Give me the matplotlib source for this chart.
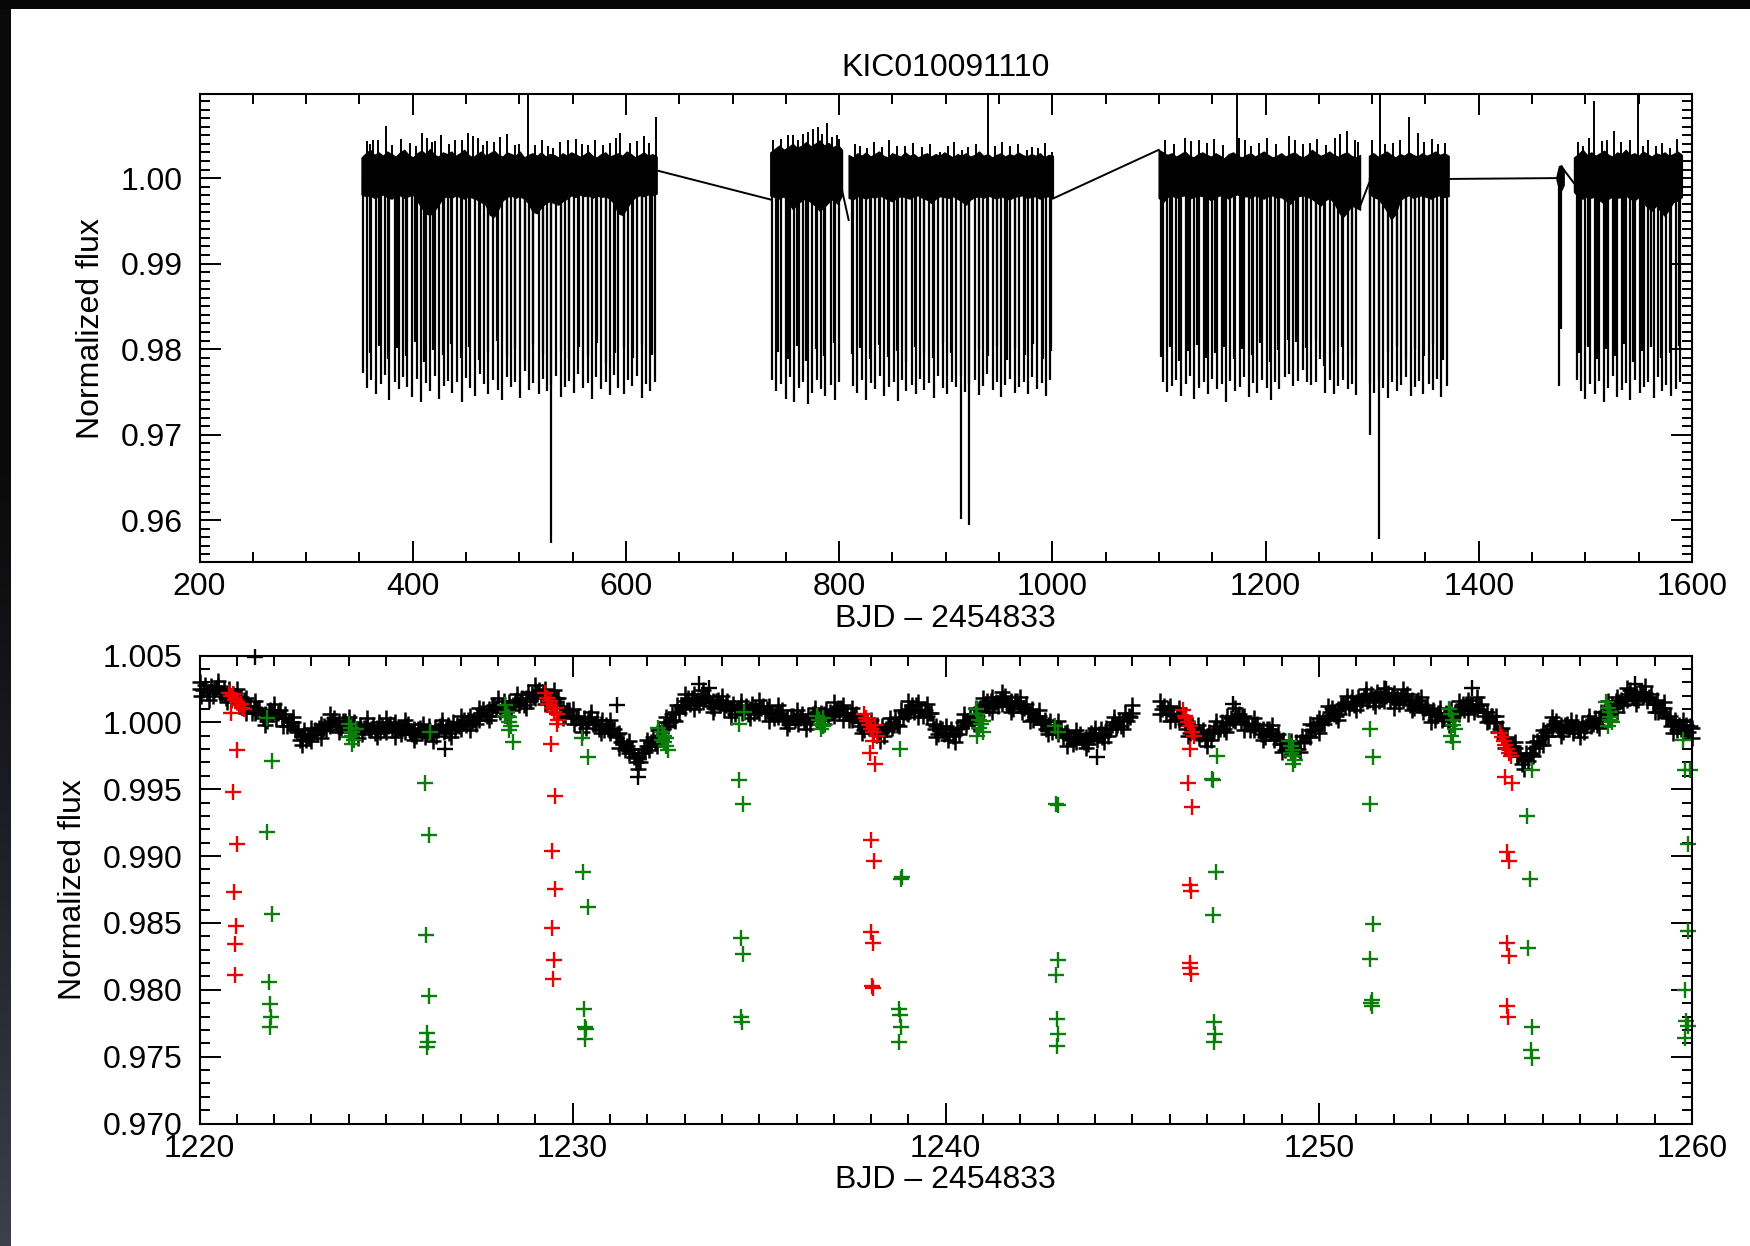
import numpy as np
import matplotlib
matplotlib.use("Agg")
import matplotlib.pyplot as plt
from matplotlib.ticker import FixedLocator, MultipleLocator, FormatStrFormatter

plt.rcParams['font.family'] = ['Liberation Sans', 'DejaVu Sans']

# ---------------- text ----------------
title = "KIC010091110"
xlabel = "BJD \u2013 2454833"
ylabel = "Normalized flux"

# ---------------- top panel: full light curve ----------------
# flux values below are offsets in units of 1e-4 relative to 1.0
seg_start = [352.0, 735.4, 808.9, 1099.7, 1297.0, 1473.0, 1489.3]
seg_end = [628.8, 802.7, 1000.5, 1288.6, 1371.7, 1479.6, 1590.5]
seg_start_flux = [1.0000, 0.9975, 0.9951, 1.0033, 0.9994, 1.0000, 0.9994]
seg_end_flux = [1.0009, 0.9986, 0.9976, 0.9967, 0.9999, 1.0010, 0.9990]

band_hi_1 = [24, 29, 33, 27, 30, 26, 31, 28, 25, 30, 33, 27, 24, 29, 32, 28, 34, 27, 25, 30,
             28, 31, 26, 29, 33, 27, 24, 28, 31, 26, 29, 32, 27, 25, 30, 28, 26, 31, 24, 27,
             29, 26, 30, 25, 28, 27, 24, 29, 26, 30, 28, 25, 27, 31, 26, 24, 28, 30, 25, 27,
             29, 26, 31, 28, 24, 27, 30, 26, 28, 25]
band_lo_1 = [-19, -21, -20, -23, -21, -19, -22, -24, -21, -20, -23, -21, -19,
             -26, -34, -41, -43, -38, -31, -23,
             -21, -23, -20, -22, -24, -21, -23, -25, -28, -31,
             -43, -45, -36, -26,
             -22, -20, -23, -21, -24, -29,
             -39, -41, -34, -29,
             -27, -29, -31, -27, -24,
             -20, -22, -19, -21, -20, -23, -20, -22, -21, -24, -29,
             -41, -43, -35, -27,
             -22, -20, -21, -19, -20, -18]
band_hi_2 = [30, 34, 38, 33, 36, 40, 35, 38, 42, 37, 40, 44, 38, 41, 36, 39, 33]
band_lo_2 = [-20, -22, -24, -21, -28, -36, -30, -26, -23, -28, -32, -38, -34, -28, -24, -30, -20]
band_hi_3 = [27, 24, 29, 26, 30, 25, 28, 31, 26, 24, 29, 27, 25, 30, 26, 28, 24, 27, 29, 25,
             28, 26, 30, 27, 24, 28, 26, 29, 25, 27, 31, 26, 28, 24, 27, 29, 25, 28, 26, 30,
             27, 25, 28, 26, 29, 24, 27, 26]
band_lo_3 = [-23, -25, -21, -22, -24, -21, -23, -20, -22, -25, -27, -23, -21, -22, -24, -21,
             -20, -23, -25, -29, -24, -21, -22, -23, -21, -24, -27, -31, -25, -22, -21, -23,
             -20, -22, -24, -21, -23, -25, -22, -21, -20, -23, -22, -21, -24, -22, -21, -23]
band_hi_4 = [33, 30, 27, 29, 25, 28, 31, 26, 24, 28, 30, 27, 25, 29, 26, 23, 28, 30, 26, 24,
             27, 29, 25, 28, 31, 27, 24, 26, 29, 25, 28, 30, 26, 24, 27, 33, 29, 26, 28, 31,
             27, 25, 28, 30, 26, 24, 27]
band_lo_4 = [-23, -28, -22, -20, -23, -21, -20, -24, -22, -20, -21, -23, -26, -22, -20, -21,
             -24, -20, -19, -22, -21, -23, -20, -22, -24, -21, -20, -23, -22, -26, -30, -24,
             -21, -20, -22, -24, -28, -32, -26, -23, -28, -38, -46, -40, -32, -34, -37]
band_hi_5 = [26, 29, 25, 28, 31, 27, 24, 28, 26, 30, 27, 25, 29, 26, 28, 31, 27, 29, 26]
band_lo_5 = [-18, -22, -24, -30, -38, -48, -42, -26, -22, -20, -23, -21, -20, -22, -24, -21,
             -20, -22, -21]
band_hi_6 = [2, 14, 15, 10]
band_lo_6 = [-2, -12, -14, -8]
band_hi_7 = [24, 28, 33, 27, 30, 26, 29, 32, 27, 25, 30, 28, 33, 27, 29, 26, 31, 28, 25, 29,
             27, 30, 26, 28, 31, 27]
band_lo_7 = [-16, -22, -24, -21, -23, -20, -26, -30, -24, -21, -23, -22, -20, -24, -26, -22,
             -28, -34, -38, -32, -38, -44, -36, -28, -26, -22]

# eclipses of the short-period pair (green in the lower panel)
dip_t_green = [353, 357, 361, 366, 370, 374, 378, 383, 387, 391, 395, 399, 404, 408, 412, 416,
               421, 425, 429, 433, 437, 442, 446, 450, 454, 458, 463, 467, 471, 475, 480, 484,
               488, 492, 496, 501, 505, 509, 513, 518, 522, 526, 530, 534, 539, 543, 547, 551,
               555, 560, 564, 568, 572, 577, 581, 585, 589, 593, 598, 602, 606, 610, 615, 619,
               623, 627,
               737, 741, 745, 750, 754, 758, 762, 766, 771, 775, 779, 783, 787, 792, 796, 800,
               813, 817, 821, 825, 830, 834, 838, 842, 847, 851, 855, 859, 863, 868, 872, 876,
               880, 884, 889, 893, 897, 901, 906, 910, 914, 918, 922, 927, 931, 935, 939, 944,
               948, 952, 956, 960, 965, 969, 973, 977, 981, 986, 990, 994, 998,
               1104, 1108, 1112, 1116, 1121, 1125, 1129, 1133, 1138, 1142, 1146, 1150, 1154,
               1159, 1163, 1167, 1171, 1176, 1180, 1184, 1188, 1192, 1197, 1201, 1205, 1209,
               1213, 1218, 1222, 1226, 1230, 1235, 1239, 1243, 1247, 1251, 1256, 1260, 1264,
               1268, 1273, 1277, 1281, 1285,
               1298, 1302, 1306, 1310, 1315, 1319, 1323, 1327, 1332, 1336, 1340, 1344, 1348,
               1353, 1357, 1361, 1365, 1370,
               1475,
               1492, 1496, 1500, 1504, 1509, 1513, 1517, 1521, 1526, 1530, 1534, 1538, 1542,
               1547, 1551, 1555, 1559, 1564, 1568, 1572, 1576, 1580, 1585, 1589]
dip_d_green = [-228, -245, -236, -252, -241, -230, -259, -238, -247, -233,
               -244, -256, -235, -262, -240, -249, -231, -258, -243, -237,
               -251, -239, -262, -234, -246, -255, -229, -241, -253, -236,
               -248, -260, -233, -244, -238, -257, -226, -248, -240, -252,
               -235, -249, -242, -231, -256, -244, -237, -251, -229, -246,
               -240, -258, -233, -247, -239, -254, -230, -245, -252, -236,
               -243, -232, -257, -241, -249, -238,
               -236, -249, -241, -258, -233, -262, -245, -239, -264, -251, -236, -247, -255,
               -242, -259, -238,
               -243, -251, -236, -259, -240, -247, -232, -255, -244, -238,
               -261, -236, -249, -242, -253, -235, -248, -240, -257, -231,
               -246, -252, -238, -244, -232, -250, -241, -236, -254, -243,
               -229, -248, -239, -256, -242, -235, -251, -244, -238, -253,
               -233, -247, -240, -255, -236,
               -238, -250, -243, -236, -255, -241, -232, -258, -246, -239,
               -253, -235, -247, -241, -262, -237, -249, -244, -233, -256,
               -240, -251, -236, -245, -259, -238, -247, -233, -229, -243,
               -237, -224, -239, -242, -239, -212, -251, -236, -252, -243,
               -236, -247, -241, -254,
               -240, -251, -235, -246, -257, -238, -249, -242, -233, -255, -244, -237, -252,
               -241, -248, -235, -256, -243,
               -243,
               -236, -249, -258, -241, -253, -237, -262, -245, -231, -256, -248, -240, -259,
               -236, -251, -244, -238, -257, -233, -249, -242, -255, -247, -238]

# eclipses of the longer-period pair (red in the lower panel)
dip_t_red = [360, 368, 377, 385, 394, 402, 411, 419, 428, 436, 445, 453, 462, 471, 479, 488,
             496, 505, 513, 522, 530, 539, 547, 556, 564, 573, 581, 590, 598, 607, 615, 624,
             743, 752, 760, 769, 778, 786, 795,
             812, 820, 829, 837, 846, 854, 863, 871, 880, 888, 897, 905, 914, 922, 931, 940,
             948, 957, 965, 974, 982, 991, 999,
             1102, 1110, 1119, 1127, 1136, 1144, 1153, 1161, 1170, 1178, 1187, 1195, 1204,
             1212, 1221, 1229, 1238, 1247, 1255, 1264, 1272, 1281,
             1298, 1306, 1315, 1323, 1332, 1340, 1349, 1357, 1366,
             1477,
             1494, 1502, 1511, 1519, 1528, 1536, 1545, 1553, 1562, 1571, 1579, 1588]
dip_d_red = [-205, -196, -212, -199, -208, -192, -215, -201, -207, -194, -210, -198, -213,
             -203, -191, -209, -200, -214, -195, -206, -427, -202, -211, -197, -208, -193,
             -216, -204, -199, -210, -195, -207,
             -203, -211, -196, -214, -200, -208, -193,
             -206, -199, -212, -195, -209, -202, -215, -197, -205, -210, -193, -204, -399,
             -406, -201, -208, -196, -213, -199, -207, -194, -211, -202,
             -209, -198, -214, -202, -195, -210, -204, -197, -212, -200, -207, -193, -215,
             -201, -189, -192, -199, -188, -220, -205, -198, -210,
             -301, -422, -203, -196, -211, -200, -208, -194, -213,
             -176,
             -205, -197, -212, -200, -208, -194, -215, -202, -198, -210, -204, -196]

# upward excursions above the noise band (200 = runs off the top of the frame)
spike_t = [356.8, 363.0, 374.9, 408.4, 413.1, 420.9, 439.7, 452.1, 456.8, 469.4, 481.9, 495.9,
           508.4, 514.7, 531.9, 545.9, 564.7, 578.8, 594.4, 603.8, 628.6,
           738.2, 757.0, 766.4, 775.8, 783.6, 788.3, 797.7, 825.8, 853.9, 894.6, 914.9, 939.5,
           975.9, 986.8, 999.4,
           1124.2, 1137.2, 1173.1, 1174.7, 1186.1, 1222.0, 1235.1, 1276.7, 1283.8, 1307.7,
           1319.8, 1334.4, 1342.6, 1368.1,
           1497.4, 1508.2, 1515.5, 1526.8, 1541.5, 1549.7, 1553.9, 1565.9, 1579.0]
spike_h = [43, 45, 61, 53, 47, 43, 45, 53, 49, 43, 48, 39,
           200, 39, 35, 45, 39, 39, 53, 41, 71,
           45, 50, 52, 58, 52, 65, 50, 35, 37, 31, 33, 200,
           33, 35, 31,
           47, 45, 200, 47, 38, 49, 40, 55, 45, 200,
           41, 71, 53, 41,
           37, 90, 43, 55, 45, 200, 37, 37, 35]
# smaller noise peaks along the top of the band
peak_t = [360, 367, 381, 389, 397, 403, 418, 427, 434, 446, 461, 466, 476, 488, 500, 521,
          527, 538, 553, 559, 571, 585, 591, 610, 617, 622,
          745, 752, 761, 771, 780, 793, 800,
          815, 820, 833, 840, 847, 862, 869, 878, 885, 902, 908, 921, 928, 946, 953, 960,
          968, 981, 993,
          1106, 1114, 1130, 1145, 1152, 1160, 1181, 1194, 1201, 1210, 1228, 1242, 1248,
          1257, 1265, 1270, 1287,
          1300, 1312, 1326, 1349, 1356, 1362,
          1493, 1503, 1520, 1533, 1559, 1572, 1586]
peak_h = [40, 44, 39, 46, 41, 38, 42, 50, 40, 44, 47, 39, 42, 51, 40, 44,
          38, 42, 46, 40, 44, 41, 47, 43, 49, 41,
          46, 50, 44, 54, 60, 48, 46,
          40, 38, 42, 36, 44, 38, 41, 36, 40, 37, 42, 36, 40, 38, 42, 37,
          40, 36, 41,
          45, 40, 43, 41, 46, 39, 44, 41, 47, 40, 44, 41, 46,
          39, 47, 52, 42,
          44, 40, 45, 42, 46, 40,
          42, 47, 44, 42, 44, 41, 46]

top_xticks = [200, 400, 600, 800, 1000, 1200, 1400, 1600]
top_yticks = [0.96, 0.97, 0.98, 0.99, 1.00]

# ---------------- bottom panel: zoom 1220-1260 ----------------
# out-of-eclipse points, cadence 0.05 d, offsets in 1e-4
black_a_span = (1220.0, 1245.0)
black_a = [25, 20, 24, 28, 22, 23, 27, 20, 24, 26, 27, 22, 22, 25, 18, 22, 25, 17, 21, 18,
           15, 18, 19, 14, 17, 18, 12, 12, 7, 11, 7, 10, 11, 6, 3, 6, 1, 8, 9, 7,
           9, 3, 7, 9, 3, 3, 6, -3, 0, 0, 0, -6, -7, -5, -13, -10, -6, -13, -10, -12,
           -14, -9, -6, -9, -4, -1, -5, -3, -6, -1, -3, 1, 3, -1, -3, 1, -5, 1, 1, -2,
           -1, -6, -3, 0, -7, -6, -2, -9, -4, -2, -1, -6, -5, -2, -8, -4, 0, -7, -3, -5,
           -7, -3, -1, -6, -2, 0, -5, -4, -9, -4, -7, -3, -1, -7, -9, -5, -10, -5, -4, -8,
           -6, -11, -7, -3, -9, -8, -4, -10, -6, -3, -2, -7, -6, -2, -8, -4, 0, -6, -2, -3,
           -5, 0, 2, -2, 2, 5, 1, 2, -1, 4, 2, 7, 10, 6, 5, 10, 5, 12, 13, 11,
           13, 8, 12, 16, 10, 11, 15, 9, 13, 16, 17, 13, 15, 18, 13, 18, 23, 16, 21, 19,
           18, 22, 24, 19, 23, 25, 19, 19, 15, 19, 15, 18, 18, 12, 8, 11, 5, 9, 9, 4,
           5, -1, 3, 5, -1, -1, 3, -4, 1, 3, 4, -1, -1, 2, -5, -1, 2, -6, -2, -5,
           -8, -5, -5, -11, -9, -8, -15, -16, -21, -18, -23, -20, -20, -26, -30, -27, -30, -23, -20, -22,
           -18, -21, -15, -11, -15, -12, -6, -12, -6, -3, 0, -3, 0, 6, 2, 8, 13, 7, 13, 12,
           11, 16, 18, 14, 18, 21, 16, 17, 13, 18, 15, 19, 20, 15, 12, 16, 11, 16, 17, 13,
           15, 10, 13, 16, 9, 10, 14, 6, 10, 11, 12, 7, 8, 12, 6, 10, 14, 7, 11, 9,
           7, 11, 12, 7, 10, 12, 7, 7, 3, 7, 4, 7, 9, 3, 1, 4, -1, 5, 5, 2,
           4, -1, 3, 6, 0, 1, 5, -1, 3, 6, 7, 2, 4, 7, 2, 6, 10, 4, 8, 7,
           5, 9, 11, 7, 11, 13, 7, 7, 2, 6, 2, 5, 6, 0, -3, 0, -6, -1, 0, -4,
           -3, -8, -5, -2, -9, -8, -3, -10, -5, -3, -1, -4, -2, 3, -2, 4, 9, 3, 8, 7,
           6, 10, 13, 8, 13, 15, 9, 9, 5, 9, 5, 7, 7, -1, -5, -3, -9, -4, -5, -9,
           -8, -13, -8, -5, -10, -9, -4, -9, -4, 0, 2, -2, 1, 5, 1, 6, 11, 5, 10, 9,
           8, 13, 16, 11, 16, 19, 14, 15, 12, 17, 14, 18, 20, 14, 12, 16, 10, 16, 16, 13,
           14, 8, 11, 14, 7, 7, 10, 2, 4, 5, 5, -1, -1, 2, -5, -2, 1, -7, -3, -6,
           -9, -6, -5, -11, -8, -7, -12, -12, -16, -12, -15, -11, -9, -13, -15, -11, -16, -10, -8, -11,
           -9, -13, -9, -5, -11, -9, -4, -10, -5, -2, 0, -4, -2, 2, -3, 2, 7, 1, 5, 4,
           7]
black_b_span = (1245.75, 1260.0)
black_b = [6, 10, 12, 6, 10,
           12, 6, 6, 2, 6, 2, 5, 5, -1, -5, -2, -8, -3, -4, -8, -7, -12, -9, -6, -13,
           -12, -7, -13, -8, -5, -3, -7, -5, 0, -5, 0, 5, -1, 3, 2, 1, 4, 6, 0, 4,
           5, -1, -1, -6, -2, -6, -2, -1, -6, -9, -5, -11, -5, -5, -8, -7, -13, -10, -9, -16,
           -16, -13, -21, -19, -18, -18, -22, -20, -15, -20, -15, -10, -15, -10, -10, -11, -6, -2, -6, 0,
           3, -1, 1, -1, 5, 3, 8, 11, 6, 5, 10, 6, 13, 14, 12, 15, 11, 15, 19, 13,
           15, 19, 13, 17, 20, 21, 16, 17, 21, 15, 19, 23, 16, 20, 18, 16, 20, 22, 16, 20,
           22, 17, 18, 14, 19, 16, 20, 21, 16, 13, 17, 11, 16, 17, 13, 14, 8, 11, 13, 6,
           6, 9, 2, 5, 7, 7, 2, 3, 7, 1, 5, 10, 4, 8, 7, 6, 11, 14, 9, 14,
           17, 12, 13, 8, 13, 10, 13, 14, 8, 5, 8, 1, 5, 5, 0, 0, -7, -5, -4, -12,
           -13, -11, -20, -18, -18, -19, -25, -25, -24, -31, -28, -23, -29, -23, -24, -25, -19, -14, -17, -10,
           -6, -10, -7, -10, -3, -5, -1, 1, -4, -6, -2, -7, -2, -1, -5, -3, -8, -4, 0, -6,
           -5, -1, -7, -3, 0, 1, -3, -1, 3, -2, 3, 8, 2, 8, 7, 6, 11, 14, 11, 16,
           19, 15, 17, 13, 19, 17, 21, 24, 19, 18, 22, 17, 23, 23, 20, 22, 16, 19, 21, 14,
           14, 17, 8, 11, 11, 11, 4, 3, 5, -3, -1, 2, -6, -2, -5, -8, -4, -2, -7, -3,
           -4]
# points at the upper / lower edges of the scatter, cadence 0.25 d
edge_a_span = (1220.0, 1245.0)
edge_a = [30, 17, 31, 15, 25, 7, 16, -2, 14, -3, 4, -17, -4, -12, 6, -7,
          4, -12, 3, -11, 3, -11, 2, -13, -1, -14, 2, -11, 5, -6, 11, 2,
          18, 5, 21, 11, 28, 14, 24, 3, 10, -7, 8, -8, 2, -19, -14, -35,
          -13, -18, 4, 1, 21, 10, 24, 8, 20, 4, 16, 3, 17, 1, 13, -4,
          9, -5, 11, -1, 15, 2, 11, -8, 2, -14, 3, -3, 16, 4, 14, -11,
          -3, -15, 6, -1, 18, 8, 23, 8, 19, 1, 9, -9, 1, -18, -6, -19,
          -4, -15, 4, -5, 13]
edge_b_span = (1245.75, 1260.0)
edge_b = [16, 1, 11, -10, -2, -18, 1, -7, 11, -6, 3, -13, -2, -22, -14, -22, -1,
          -8, 12, 2, 20, 9, 25, 12, 26, 11, 25, 9, 19, 0, 11, -2, 16,
          6, 19, 0, 5, -19, -15, -35, -15, -17, 4, -10, 2, -11, 5, -4, 16,
          8, 26, 14, 27, 8, 15, -8, 2, -12]
outlier_t = [1221.50, 1226.57, 1231.19, 1231.75, 1233.39, 1233.65, 1244.05, 1247.70, 1251.80,
             1254.10, 1258.47]
outlier_f = [1.0049, 0.9980, 1.0013, 0.9959, 1.0029, 1.0026, 0.9974, 1.0014, 1.0025,
             1.0026, 1.0029]

red_t = [1220.80, 1220.85, 1220.90, 1220.95, 1221.00, 1221.05, 1221.10, 1221.15, 1221.20,
         1220.85, 1221.01, 1220.90, 1221.01, 1220.93, 1220.97, 1220.95, 1220.96,
         1229.26, 1229.30, 1229.35, 1229.40, 1229.45, 1229.50, 1229.55, 1229.58, 1229.60,
         1229.57, 1229.42, 1229.54, 1229.44, 1229.54, 1229.46, 1229.50, 1229.47,
         1237.80, 1237.85, 1237.90, 1237.95, 1238.00, 1238.05, 1238.10, 1238.15, 1238.05,
         1237.97, 1238.10, 1237.99, 1238.08, 1238.00, 1238.05, 1238.03, 1238.05,
         1246.35, 1246.40, 1246.45, 1246.50, 1246.55, 1246.60, 1246.65, 1246.55, 1246.50,
         1246.60, 1246.55, 1246.58, 1246.55, 1246.55, 1246.58,
         1254.85, 1254.90, 1254.95, 1255.00, 1255.05, 1255.10, 1255.15, 1254.99, 1255.17,
         1255.04, 1255.10, 1255.04, 1255.10, 1255.04, 1255.08]
red_f = [1.0022, 1.0020, 1.0021, 1.0017, 1.0015, 1.0013, 1.0014, 1.0011, 1.0010,
         1.0007, 0.9979, 0.9948, 0.9909, 0.9873, 0.9848, 0.9834, 0.9811,
         1.0022, 1.0018, 1.0014, 1.0016, 1.0011, 1.0008, 1.0011, 1.0006, 1.0002,
         0.9999, 0.9984, 0.9945, 0.9904, 0.9875, 0.9846, 0.9822, 0.9808,
         1.0006, 1.0003, 1.0001, 0.9998, 0.9995, 0.9993, 0.9998, 0.9990, 0.9986,
         0.9977, 0.9969, 0.9912, 0.9896, 0.9843, 0.9835, 0.9803, 0.9801,
         1.0009, 1.0005, 1.0003, 1.0000, 0.9997, 0.9993, 0.9990, 0.9980, 0.9955,
         0.9937, 0.9878, 0.9874, 0.9820, 0.9816, 0.9812,
         0.9992, 0.9989, 0.9986, 0.9983, 0.9980, 0.9977, 0.9975, 0.9959, 0.9955,
         0.9903, 0.9896, 0.9835, 0.9825, 0.9788, 0.9780]

green_t = [1221.80, 1221.94, 1221.82, 1221.94, 1221.87, 1221.89, 1221.91, 1221.90,
           1224.00, 1224.05, 1224.10, 1224.10, 1224.15, 1224.10, 1224.20, 1224.00,
           1226.18, 1226.04, 1226.16, 1226.06, 1226.14, 1226.11, 1226.12, 1226.10,
           1228.20, 1228.25, 1228.30, 1228.30, 1228.35, 1228.30, 1228.40, 1228.20,
           1230.24, 1230.41, 1230.27, 1230.40, 1230.30, 1230.33, 1230.35, 1230.32,
           1232.30, 1232.40, 1232.45, 1232.50, 1232.45, 1232.50, 1232.55, 1232.40,
           1234.58, 1234.47, 1234.47, 1234.57, 1234.50, 1234.57, 1234.52, 1234.55,
           1236.55, 1236.60, 1236.65, 1236.70, 1236.65, 1236.75, 1236.70,
           1238.77, 1238.80, 1238.82, 1238.75, 1238.78, 1238.80, 1238.76,
           1240.80, 1240.85, 1240.90, 1240.95, 1240.90, 1241.00, 1240.85, 1241.00,
           1242.93, 1243.00, 1242.96, 1243.00, 1243.00, 1242.95, 1242.98, 1243.00, 1242.97,
           1247.26, 1247.13, 1247.15, 1247.23, 1247.15, 1247.20, 1247.22, 1247.18,
           1249.20, 1249.25, 1249.30, 1249.30, 1249.35, 1249.30, 1249.25,
           1251.37, 1251.46, 1251.36, 1251.45, 1251.38, 1251.42, 1251.42, 1251.40,
           1253.50, 1253.55, 1253.60, 1253.60, 1253.65, 1253.55, 1253.60,
           1255.70, 1255.58, 1255.67, 1255.60, 1255.70, 1255.68, 1255.72,
           1257.70, 1257.75, 1257.80, 1257.80, 1257.85, 1257.75, 1257.80,
           1259.77, 1259.95, 1259.80, 1259.89, 1259.90, 1259.80, 1259.85, 1259.90, 1259.82]
green_f = [1.0003, 0.9971, 0.9918, 0.9857, 0.9806, 0.9789, 0.9780, 0.9772,
           0.9999, 0.9996, 0.9993, 0.9990, 0.9987, 0.9984, 0.9995, 0.9989,
           0.9993, 0.9955, 0.9916, 0.9841, 0.9795, 0.9768, 0.9761, 0.9757,
           1.0013, 1.0008, 1.0004, 1.0000, 0.9997, 0.9994, 0.9985, 1.0005,
           0.9988, 0.9974, 0.9888, 0.9862, 0.9786, 0.9772, 0.9771, 0.9763,
           0.9996, 0.9993, 0.9990, 0.9988, 0.9985, 0.9982, 0.9979, 0.9987,
           1.0008, 0.9999, 0.9957, 0.9939, 0.9839, 0.9827, 0.9780, 0.9776,
           1.0005, 1.0002, 0.9999, 0.9997, 0.9995, 0.9998, 1.0003,
           0.9980, 0.9883, 0.9884, 0.9786, 0.9781, 0.9772, 0.9761,
           1.0010, 1.0006, 1.0002, 0.9999, 0.9996, 0.9993, 0.9990, 1.0001,
           0.9997, 0.9993, 0.9939, 0.9938, 0.9822, 0.9811, 0.9778, 0.9767, 0.9758,
           0.9975, 0.9958, 0.9957, 0.9888, 0.9856, 0.9776, 0.9767, 0.9761,
           0.9986, 0.9982, 0.9979, 0.9975, 0.9972, 0.9969, 0.9977,
           0.9995, 0.9974, 0.9939, 0.9849, 0.9823, 0.9792, 0.9788, 0.9790,
           1.0010, 1.0006, 1.0002, 0.9998, 0.9995, 0.9990, 0.9985,
           0.9964, 0.9930, 0.9883, 0.9831, 0.9772, 0.9755, 0.9749,
           1.0015, 1.0011, 1.0008, 1.0004, 1.0000, 0.9997, 1.0002,
           0.9987, 0.9964, 0.9964, 0.9909, 0.9844, 0.9800, 0.9777, 0.9773, 0.9764]

bot_xticks = [1220, 1230, 1240, 1250, 1260]
bot_yticks = [0.970, 0.975, 0.980, 0.985, 0.990, 0.995, 1.000, 1.005]

# ---------------- figure ----------------
W, H = 1750, 1246
fig = plt.figure(figsize=(W / 100, H / 100), dpi=100)
fig.patch.set_facecolor('white')

FS = 23
ax1 = fig.add_axes([199.5 / W, 1 - 562 / H, (1692 - 199.5) / W, (562 - 94.3) / H])
ax2 = fig.add_axes([199.5 / W, 1 - 1123.5 / H, (1692 - 199.5) / W, (1123.5 - 655.5) / H])

LW = 1.6
# top panel
band_hi = [band_hi_1, band_hi_2, band_hi_3, band_hi_4, band_hi_5, band_hi_6, band_hi_7]
band_lo = [band_lo_1, band_lo_2, band_lo_3, band_lo_4, band_lo_5, band_lo_6, band_lo_7]
for s0, s1, hi, lo in zip(seg_start, seg_end, band_hi, band_lo):
    t = np.linspace(s0, s1, len(hi))
    ax1.fill_between(t, 1 + np.array(lo) * 1e-4, 1 + np.array(hi) * 1e-4,
                     color='black', lw=1.0, zorder=2)
for i in range(len(seg_start) - 1):
    ax1.plot([seg_end[i], seg_start[i + 1]], [seg_end_flux[i], seg_start_flux[i + 1]],
             color='black', lw=1.4, zorder=2)
ax1.vlines(dip_t_green, 1 + np.array(dip_d_green) * 1e-4, 1.0, color='black', lw=LW, zorder=2)
ax1.vlines(dip_t_red, 1 + np.array(dip_d_red) * 1e-4, 1.0, color='black', lw=LW, zorder=2)
ax1.vlines(spike_t, 1.0, 1 + np.array(spike_h) * 1e-4, color='black', lw=1.4, zorder=2)
ax1.vlines(peak_t, 1.0, 1 + np.array(peak_h) * 1e-4, color='black', lw=1.4, zorder=2)

ax1.set_xlim(200, 1600)
ax1.set_ylim(0.9551, 1.0098)
ax1.xaxis.set_major_locator(FixedLocator(top_xticks))
ax1.xaxis.set_minor_locator(MultipleLocator(50))
ax1.yaxis.set_major_locator(FixedLocator(top_yticks))
ax1.yaxis.set_minor_locator(MultipleLocator(0.001))
ax1.yaxis.set_major_formatter(FormatStrFormatter('%.2f'))
ax1.set_title(title, fontsize=FS, pad=13)

# bottom panel
MS, MEW = 11.5, 1.7
tA = np.linspace(black_a_span[0], black_a_span[1], len(black_a))
tB = np.linspace(black_b_span[0], black_b_span[1], len(black_b))
eA = np.linspace(edge_a_span[0], edge_a_span[1], len(edge_a))
eB = np.linspace(edge_b_span[0], edge_b_span[1], len(edge_b))
for tt, ff in ((tA, black_a), (tB, black_b), (eA, edge_a), (eB, edge_b)):
    ax2.plot(tt, 1 + np.array(ff) * 1e-4, '+', color='black', ms=MS, mew=1.8, clip_on=False)
ax2.plot(outlier_t, outlier_f, '+', color='black', ms=MS, mew=MEW, clip_on=False)
ax2.plot(red_t, red_f, '+', color='#ee0000', ms=MS, mew=MEW, clip_on=False)
ax2.plot(green_t, green_f, '+', color='#0a7d0a', ms=MS, mew=MEW, clip_on=False)

ax2.set_xlim(1220, 1260)
ax2.set_ylim(0.970, 1.005)
ax2.xaxis.set_major_locator(FixedLocator(bot_xticks))
ax2.xaxis.set_minor_locator(MultipleLocator(1))
ax2.yaxis.set_major_locator(FixedLocator(bot_yticks))
ax2.yaxis.set_minor_locator(MultipleLocator(0.001))
ax2.yaxis.set_major_formatter(FormatStrFormatter('%.3f'))

for ax in (ax1, ax2):
    for sp in ax.spines.values():
        sp.set_linewidth(1.5)
    ax.tick_params(which='both', direction='in', top=True, right=True, width=1.4,
                   labelsize=FS, colors='black')
    ax.tick_params(which='major', length=15)
    ax.tick_params(which='minor', length=7.5)
    ax.tick_params(axis='x', which='major', pad=7.5)
    ax.tick_params(axis='y', which='major', pad=12)
    ax.set_xlabel(xlabel, fontsize=FS, labelpad=1)
    ax.set_ylabel(ylabel, fontsize=FS, labelpad=11)

# dark screen frame (top bar and left bar with gradient)
fig.add_artist(plt.Rectangle((0, 1 - 9 / H), 1, 9 / H, transform=fig.transFigure,
                             facecolor='#070708', edgecolor='none', zorder=10))
axl = fig.add_axes([0, 0, 11 / W, 1 - 9 / H])
axl.set_axis_off()
g = np.linspace(0, 1, 300)
k = np.clip((g - 0.35) / 0.65, 0, 1) ** 1.3
dark = np.array([0.04, 0.04, 0.047])
light = np.array([0.24, 0.25, 0.30])
col = dark[None, :] + (light - dark)[None, :] * k[:, None]
axl.imshow(col[:, None, :], aspect='auto', interpolation='bilinear', extent=(0, 1, 0, 1))

fig.savefig('out.png', dpi=100, facecolor='white')
